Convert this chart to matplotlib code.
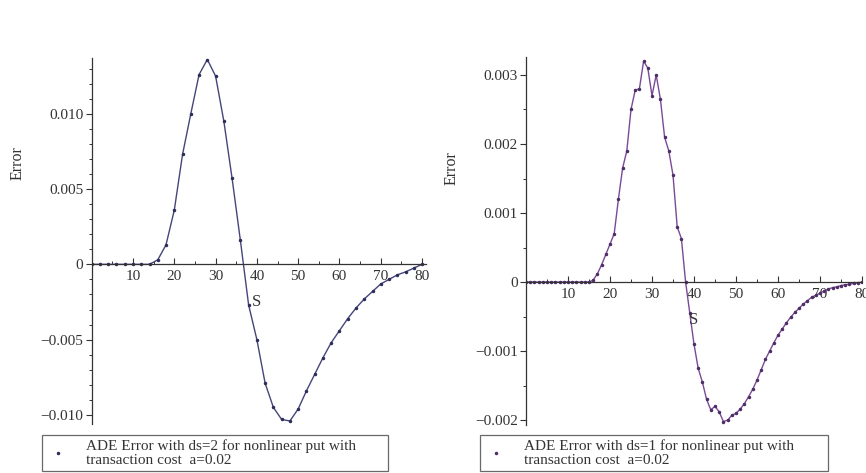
import matplotlib.pyplot as plt
from matplotlib.ticker import MultipleLocator, FuncFormatter

plt.rcParams['font.family'] = ['Liberation Serif', 'DejaVu Serif']

# ds = 2 grid, error in units of 1e-3
s_ds2 = list(range(0, 81, 2))
err_ds2 = [0, 0, 0, 0, 0, 0, 0, 0, 0.3, 1.3, 3.6, 7.3, 10.0, 12.6, 13.6, 12.5,
           9.5, 5.7, 1.6, -2.7, -5.0, -7.9, -9.5, -10.3, -10.4, -9.6, -8.4,
           -7.3, -6.2, -5.2, -4.4, -3.6, -2.9, -2.3, -1.8, -1.3, -1.0, -0.7,
           -0.5, -0.25, 0]

# ds = 1 grid
s_ds1 = list(range(0, 81))
err_ds1 = [0] * 16 + [
    0.03, 0.12, 0.25, 0.40, 0.55, 0.70, 1.20, 1.65, 1.90, 2.50, 2.78, 2.80,
    3.20, 3.10, 2.70, 3.00, 2.65, 2.10, 1.90, 1.55, 0.80, 0.63, 0.0, -0.45,
    -0.90, -1.25, -1.45, -1.70, -1.85, -1.80, -1.88, -2.02, -2.00, -1.93,
    -1.90, -1.84, -1.76, -1.66, -1.55, -1.42, -1.27, -1.12, -1.00, -0.88,
    -0.77, -0.68, -0.59, -0.51, -0.44, -0.38, -0.32, -0.27, -0.22, -0.19,
    -0.16, -0.13, -0.10, -0.08, -0.07, -0.05, -0.04, -0.03, -0.02, -0.01, 0]

labels = ["ADE Error with ds=2 for nonlinear put with\ntransaction cost  a=0.02",
          "ADE Error with ds=1 for nonlinear put with\ntransaction cost  a=0.02"]

W, H = 866, 473
fig = plt.figure(figsize=(W / 100, H / 100), dpi=100)


def px_axes(x0, x1, y0, y1):
    # pixel box (top-left origin) -> figure axes
    return fig.add_axes([x0 / W, 1 - y1 / H, (x1 - x0) / W, (y1 - y0) / H])


def fmt(v, pos):
    if abs(v) < 1e-12:
        return "0"
    return ("%.3f" % v).replace("-", "\u2212")


def style(ax, xmax, ylim, ymaj, ymin):
    ax.set_xlim(0, xmax)
    ax.set_ylim(*ylim)
    ax.set_facecolor('none')
    for side in ('top', 'right'):
        ax.spines[side].set_visible(False)
    ax.spines['bottom'].set_position(('data', 0))
    ax.spines['left'].set_position(('data', 0))
    for sp in ax.spines.values():
        sp.set_color('#333333')
        sp.set_linewidth(0.9)
    ax.xaxis.set_minor_locator(MultipleLocator(5))
    ax.set_xticks([10, 20, 30, 40, 50, 60, 70, 80])
    ax.yaxis.set_major_locator(MultipleLocator(ymaj))
    ax.yaxis.set_minor_locator(MultipleLocator(ymin))
    ax.yaxis.set_major_formatter(FuncFormatter(fmt))
    ax.tick_params(axis='x', direction='in', length=4, width=0.8,
                   labelsize=11, pad=4, colors='#333333')
    ax.tick_params(axis='x', which='minor', direction='in', length=2.5,
                   width=0.7, colors='#333333')
    ax.tick_params(axis='y', direction='out', length=4, width=0.8,
                   labelsize=11, pad=2, colors='#333333')
    ax.tick_params(axis='y', which='minor', direction='out', length=2.5,
                   width=0.7, colors='#333333')
    ax.annotate('S', xy=(40, 0), xytext=(0, -38), textcoords='offset pixels',
                ha='center', va='center', fontsize=12, color='#333333')


# left panel, ds = 2
ax1 = px_axes(91.7, 426.2, 58, 424)
ax1.plot(s_ds2, [e * 1e-3 for e in err_ds2], color='#45457a', lw=1.0,
         marker='.', ms=3, mfc='#2e2e5a', mec='#2e2e5a', label=labels[0])
style(ax1, 81, (-0.0106, 0.0137), 0.005, 0.001)
fig.text(18 / W, 1 - 163 / H, 'Error', rotation=90, ha='center', va='center',
         fontsize=11.5, color='#333333')

# right panel, ds = 1
ax2 = px_axes(526, 862, 57, 425)
ax2.plot(s_ds1, [e * 1e-3 for e in err_ds1], color='#7a4a96', lw=1.0,
         marker='.', ms=3, mfc='#4e2e66', mec='#4e2e66', label=labels[1])
style(ax2, 80, (-0.00207, 0.00326), 0.001, 0.0005)
fig.text(452 / W, 1 - 168 / H, 'Error', rotation=90, ha='center', va='center',
         fontsize=11.5, color='#333333')

# legends, boxes run off the bottom edge
for ax, x0, x1 in ((ax1, 42, 388), (ax2, 480, 828)):
    leg = ax.legend(loc='upper left',
                    bbox_to_anchor=(x0 / W, 1 - 435 / H, (x1 - x0) / W, 0.0),
                    bbox_transform=fig.transFigure, mode='expand',
                    frameon=True, fancybox=False, fontsize=11,
                    handlelength=1.5, handletextpad=1.1, borderpad=0.3,
                    borderaxespad=0, labelspacing=0.2)
    frame = leg.get_frame()
    frame.set_edgecolor('#444444')
    frame.set_linewidth(0.9)
    for h in leg.legend_handles:
        h.set_linestyle('none')
    for t in leg.get_texts():
        t.set_color('#333333')
        t.set_linespacing(1.05)

fig.savefig('out.png', dpi=100)
